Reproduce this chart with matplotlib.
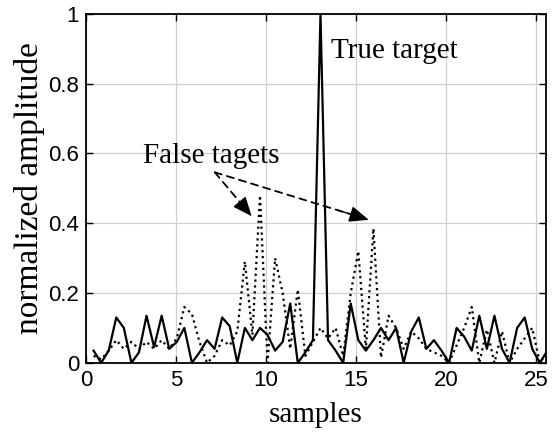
import numpy as np
import matplotlib
matplotlib.use("Agg")
from matplotlib import pyplot as plt

# sample positions (61 samples, spacing 0.42)
n_samples = 61
step = 0.42
samples = step * np.arange(1, n_samples + 1)

# solid curve (true target)
solid_amp = [0.035, 0.0, 0.035, 0.13, 0.10, 0.0, 0.03, 0.135, 0.045, 0.135,
             0.04, 0.06, 0.10, 0.0, 0.03, 0.065, 0.04, 0.13, 0.105, 0.0,
             0.10, 0.065, 0.10, 0.08, 0.035, 0.06, 0.17, 0.0, 0.03, 0.065,
             1.0, 0.065, 0.035, 0.0, 0.17, 0.065, 0.035, 0.065, 0.10, 0.065,
             0.10, 0.0, 0.09, 0.13, 0.04, 0.065, 0.035, 0.0, 0.10, 0.075,
             0.035, 0.135, 0.04, 0.135, 0.04, 0.0, 0.10, 0.13, 0.04, 0.0,
             0.035]

# dotted curve (false targets)
dotted_amp = [0.02, 0.01, 0.035, 0.065, 0.04, 0.06, 0.04, 0.06, 0.04, 0.065,
              0.04, 0.07, 0.16, 0.14, 0.06, 0.0, 0.02, 0.065, 0.05, 0.09,
              0.29, 0.08, 0.48, 0.0, 0.30, 0.20, 0.04, 0.21, 0.02, 0.06,
              0.10, 0.07, 0.10, 0.02, 0.20, 0.32, 0.04, 0.385, 0.015, 0.135,
              0.10, 0.04, 0.09, 0.07, 0.04, 0.03, 0.02, 0.0, 0.05, 0.10,
              0.16, 0.0, 0.095, 0.0, 0.09, 0.0, 0.04, 0.07, 0.10, 0.0,
              0.03]

xticks = [0, 5, 10, 15, 20, 25]
yticks = [0, 0.2, 0.4, 0.6, 0.8, 1]
ytick_labels = ['0', '0.2', '0.4', '0.6', '0.8', '1']

serif = 'Liberation Serif'
sans = 'Liberation Sans'

fig = plt.figure(figsize=(5.55, 4.34), dpi=100)
ax = fig.add_axes([0.155, 0.164, 0.829, 0.804])

ax.plot(samples, dotted_amp, color='black', linestyle=':', linewidth=1.6)
ax.plot(samples, solid_amp, color='black', linestyle='-', linewidth=1.6)

ax.set_xlim(0, 25.55)
ax.set_ylim(0, 1)
ax.set_xticks(xticks)
ax.set_yticks(yticks)
ax.set_yticklabels(ytick_labels)
ax.grid(True, color='#d0d0d0', linewidth=0.9)
ax.set_axisbelow(True)
ax.tick_params(direction='in', top=True, right=True, length=5, width=1,
               labelsize=16, pad=5)
for lab in ax.get_xticklabels() + ax.get_yticklabels():
    lab.set_fontfamily(sans)
for sp in ax.spines.values():
    sp.set_linewidth(1.3)

ax.set_xlabel('samples', fontsize=21, family=serif, labelpad=8)
ax.set_ylabel('normalized amplitude', fontsize=24, family=serif, labelpad=2)

ax.text(13.6, 0.895, 'True target', fontsize=21, family=serif, va='center')
ax.text(3.14, 0.594, 'False tagets', fontsize=21, family=serif, va='center')

# dashed arrows
start = (7.15, 0.546)
tips = [(9.2, 0.42), (15.7, 0.41)]
for tip in tips:
    ax.annotate('', xy=tip, xytext=start,
                arrowprops=dict(arrowstyle='-', linestyle=(0, (4, 3)),
                                color='black', linewidth=1.3,
                                shrinkA=0, shrinkB=6))
    ax.annotate('', xy=tip, xytext=(tip[0] - (tip[0] - start[0]) * 0.2,
                                    tip[1] - (tip[1] - start[1]) * 0.2),
                arrowprops=dict(arrowstyle='-|>,head_length=1.2,head_width=0.5',
                                color='black', linewidth=1.0,
                                shrinkA=0, shrinkB=0))

fig.savefig('out.png', dpi=100)
